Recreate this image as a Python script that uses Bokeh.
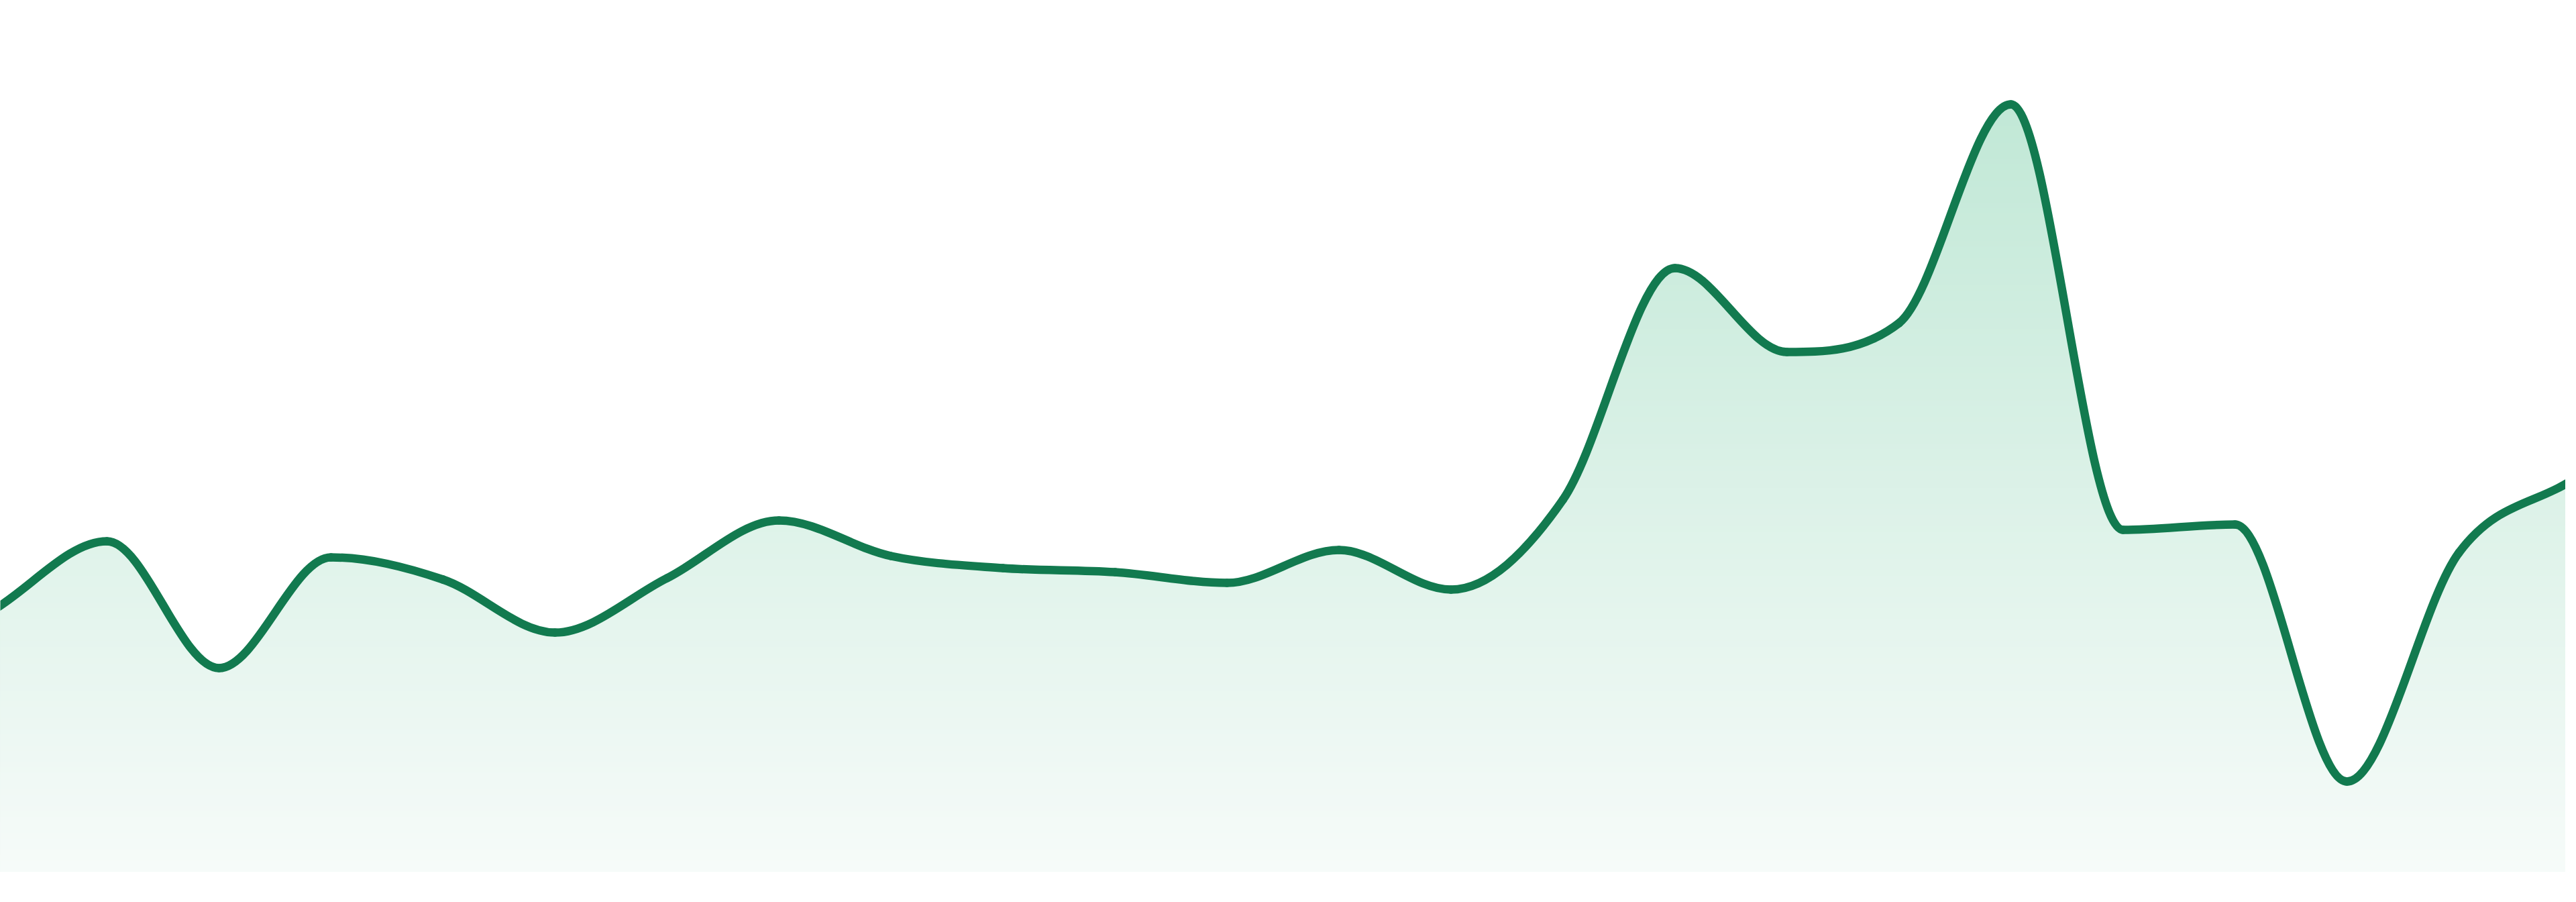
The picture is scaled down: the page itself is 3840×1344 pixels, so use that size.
import numpy as np
from bokeh.plotting import figure
from bokeh.models import Range1d
from bokeh.embed import file_html
from bokeh.resources import INLINE

# ---- data ----
values = [39.1, 49.2, 30.3, 46.8, 43.5, 35.6, 43.7, 52.3, 47.0, 45.2, 44.6, 43.0,
          47.9, 42.0, 55.4, 89.9, 77.4, 81.7, 114.3, 50.9, 51.7, 13.4, 47.5, 58.2]
positions = list(range(len(values)))

LINE_COLOR = "#127a4f"
FILL_TOP = (193, 232, 214)
FILL_BOTTOM = (246, 251, 249)


def monotone_slopes(x, y):
    x = np.asarray(x, float)
    y = np.asarray(y, float)
    n = len(x)
    d = np.diff(y) / np.diff(x)
    m = np.zeros(n)
    m[0] = d[0]
    m[-1] = d[-1]
    for i in range(1, n - 1):
        if np.sign(d[i - 1]) != np.sign(d[i]):
            m[i] = 0.0
        else:
            m[i] = (d[i - 1] + d[i]) / 2
    for i in range(n - 1):
        if d[i] == 0:
            m[i] = m[i + 1] = 0.0
            continue
        a = m[i] / d[i]
        b = m[i + 1] / d[i]
        s = a * a + b * b
        if s > 9:
            t = 3 / np.sqrt(s)
            m[i] = t * a * d[i]
            m[i + 1] = t * b * d[i]
    return m


x = np.asarray(positions, float)
y = np.asarray(values, float)
m = monotone_slopes(x, y)

# bezier control points (monotone cubic)
dx = np.diff(x)
x0, y0 = x[:-1], y[:-1]
x1, y1 = x[1:], y[1:]
cx0 = x0 + dx / 3
cy0 = y0 + m[:-1] * dx / 3
cx1 = x1 - dx / 3
cy1 = y1 - m[1:] * dx / 3

# dense evaluation of the same curve for the filled area
sx, sy = [], []
for i in range(len(x) - 1):
    t = np.linspace(0, 1, 80, endpoint=(i == len(x) - 2))
    h = dx[i]
    h00 = 2 * t**3 - 3 * t**2 + 1
    h10 = t**3 - 2 * t**2 + t
    h01 = -2 * t**3 + 3 * t**2
    h11 = t**3 - t**2
    sx.extend(x[i] + t * h)
    sy.extend(h00 * y[i] + h10 * h * m[i] + h01 * y[i + 1] + h11 * h * m[i + 1])
sx = np.array(sx)
sy = np.array(sy)

W, H = 3824, 1328
step_px = 3840 / 23
p = figure(width=W, height=H,
           x_range=Range1d(8 / step_px, (8 + W) / step_px),
           y_range=Range1d(-3.0, 129.8),
           output_backend="svg", toolbar_location=None,
           x_axis_type=None, y_axis_type=None, min_border=0)
p.grid.visible = False
p.outline_line_color = None
p.background_fill_color = "white"
p.border_fill_color = "white"

# vertical gradient fill built from stacked bands
top = max(values)
N = 140
for k in range(N):
    hi = top * (1 - k / N)
    f = k / (N - 1)
    r = int(round(FILL_TOP[0] + (FILL_BOTTOM[0] - FILL_TOP[0]) * f))
    g = int(round(FILL_TOP[1] + (FILL_BOTTOM[1] - FILL_TOP[1]) * f))
    b = int(round(FILL_TOP[2] + (FILL_BOTTOM[2] - FILL_TOP[2]) * f))
    p.varea(x=sx, y1=np.zeros_like(sy), y2=np.minimum(sy, hi),
            fill_color=(r, g, b), fill_alpha=1.0)

p.bezier(x0=x0, y0=y0, x1=x1, y1=y1, cx0=cx0, cy0=cy0, cx1=cx1, cy1=cy1,
         line_color=LINE_COLOR, line_width=12.5, line_cap="round")

open("out.html", "w").write(file_html(p, INLINE))
